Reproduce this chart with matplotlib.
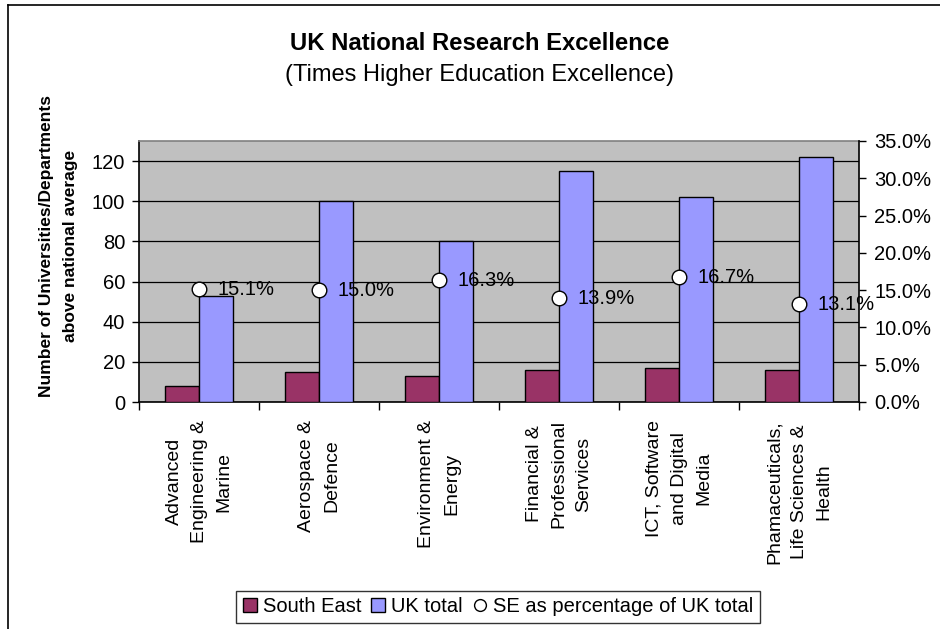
import matplotlib
matplotlib.use("Agg")
import matplotlib.pyplot as plt
from matplotlib.lines import Line2D
import numpy as np

plt.rcParams['font.family'] = ['Liberation Sans', 'DejaVu Sans']

categories = [
    "Advanced\nEngineering &\nMarine",
    "Aerospace &\nDefence",
    "Environment &\nEnergy",
    "Financial &\nProfessional\nServices",
    "ICT, Software\nand Digital\nMedia",
    "Phamaceuticals,\nLife Sciences &\nHealth",
]
south_east = [8, 15, 13, 16, 17, 16]
uk_total = [53, 100, 80, 115, 102, 122]
se_pct = [15.1, 15.0, 16.3, 13.9, 16.7, 13.1]
left_ticks = [0, 20, 40, 60, 80, 100, 120]
right_ticks = [0, 5, 10, 15, 20, 25, 30, 35]

SE_COLOR = "#993366"
UK_COLOR = "#9999FF"
PLOT_BG = "#C0C0C0"

W, H, DPI = 940, 629, 100
fig = plt.figure(figsize=(W / DPI, H / DPI), dpi=DPI)
fig.patch.set_facecolor("white")

# plot area in pixel coordinates
x0, x1, ytop, ybot = 139, 859, 141, 402
ax = fig.add_axes([x0 / W, 1 - ybot / H, (x1 - x0) / W, (ybot - ytop) / H])
ax.set_facecolor(PLOT_BG)

x = np.arange(len(categories))
bw = 1 / 3.5
ax.bar(x - bw / 2, south_east, width=bw, color=SE_COLOR, edgecolor="black",
       linewidth=1.0, zorder=3)
ax.bar(x + bw / 2, uk_total, width=bw, color=UK_COLOR, edgecolor="black",
       linewidth=1.0, zorder=3)

ax.set_xlim(-0.5, len(categories) - 0.5)
ax.set_ylim(0, 130)
ax.set_yticks(left_ticks)
ax.yaxis.grid(True, color="black", linewidth=0.9)
ax.set_axisbelow(True)

# category boundaries as tick marks, names as minor labels
ax.set_xticks(np.arange(-0.5, len(categories) + 0.5, 1))
ax.set_xticklabels([])
ax.tick_params(axis="x", which="major", length=6, width=1, direction="out")
ax.set_xticks(x, minor=True)
ax.set_xticklabels(categories, minor=True, rotation=90, ha="center", va="top",
                   multialignment="center", fontsize=14, linespacing=1.6)
ax.tick_params(axis="x", which="minor", length=0, pad=13)

ax.tick_params(axis="y", length=5, width=1, direction="out", labelsize=14.5, pad=5)

for side in ("left", "bottom"):
    ax.spines[side].set_color("black")
    ax.spines[side].set_linewidth(1.2)
ax.spines["top"].set_color("#808080")
ax.spines["top"].set_linewidth(1.2)
ax.spines["right"].set_visible(False)

ax.set_ylabel("Number of Universities/Departments\nabove national average",
              fontsize=12.5, fontweight="bold", linespacing=1.7)
ax.yaxis.set_label_coords(-0.085, 0.598)

# secondary axis for the share
ax2 = ax.twinx()
ax2.set_ylim(0, 35)
ax2.set_yticks(right_ticks)
ax2.set_yticklabels([f"{t:.1f}%" for t in right_ticks])
ax2.tick_params(axis="y", length=5, width=1, direction="out", labelsize=14.5, pad=6)
for side in ("left", "top", "bottom"):
    ax2.spines[side].set_visible(False)
ax2.spines["right"].set_color("black")
ax2.spines["right"].set_linewidth(1.2)

ax2.plot(x, se_pct, linestyle="none", marker="o", markersize=10.5,
         markerfacecolor="white", markeredgecolor="black", markeredgewidth=1.0,
         zorder=5)
for xi, p in zip(x, se_pct):
    ax2.annotate(f"{p:.1f}%", (xi, p), xytext=(13, 0), textcoords="offset points",
                 ha="left", va="center", fontsize=14.5, zorder=6)

# titles
fig.text(480 / W, 1 - 43 / H, "UK National Research Excellence", ha="center",
         va="center", fontsize=17.2, fontweight="bold")
fig.text(480 / W, 1 - 75 / H, "(Times Higher Education Excellence)", ha="center",
         va="center", fontsize=17)

# legend
handles = [
    Line2D([], [], linestyle="none", marker="s", markersize=9.5,
           markerfacecolor=SE_COLOR, markeredgecolor="black", markeredgewidth=1),
    Line2D([], [], linestyle="none", marker="s", markersize=9.5,
           markerfacecolor=UK_COLOR, markeredgecolor="black", markeredgewidth=1),
    Line2D([], [], linestyle="none", marker="o", markersize=8.5,
           markerfacecolor="white", markeredgecolor="black", markeredgewidth=1),
]
labels = ["South East", "UK total", "SE as percentage of UK total"]
leg = fig.legend(handles, labels, loc="center", bbox_to_anchor=(498 / W, 1 - 607 / H),
                 ncol=3, fontsize=14.5, frameon=True, fancybox=False,
                 handlelength=0.7, handletextpad=0.3, columnspacing=0.5,
                 borderpad=0.3, borderaxespad=0)
leg.get_frame().set_edgecolor("black")
leg.get_frame().set_linewidth(1.0)

# chart-area border (left and top edges)
fig.add_artist(Line2D([8 / W, 8 / W], [0, 1 - 5 / H], transform=fig.transFigure,
                      color="black", linewidth=1.2))
fig.add_artist(Line2D([8 / W, 1], [1 - 5 / H, 1 - 5 / H], transform=fig.transFigure,
                      color="black", linewidth=1.2))

fig.savefig("out.png", dpi=DPI)
